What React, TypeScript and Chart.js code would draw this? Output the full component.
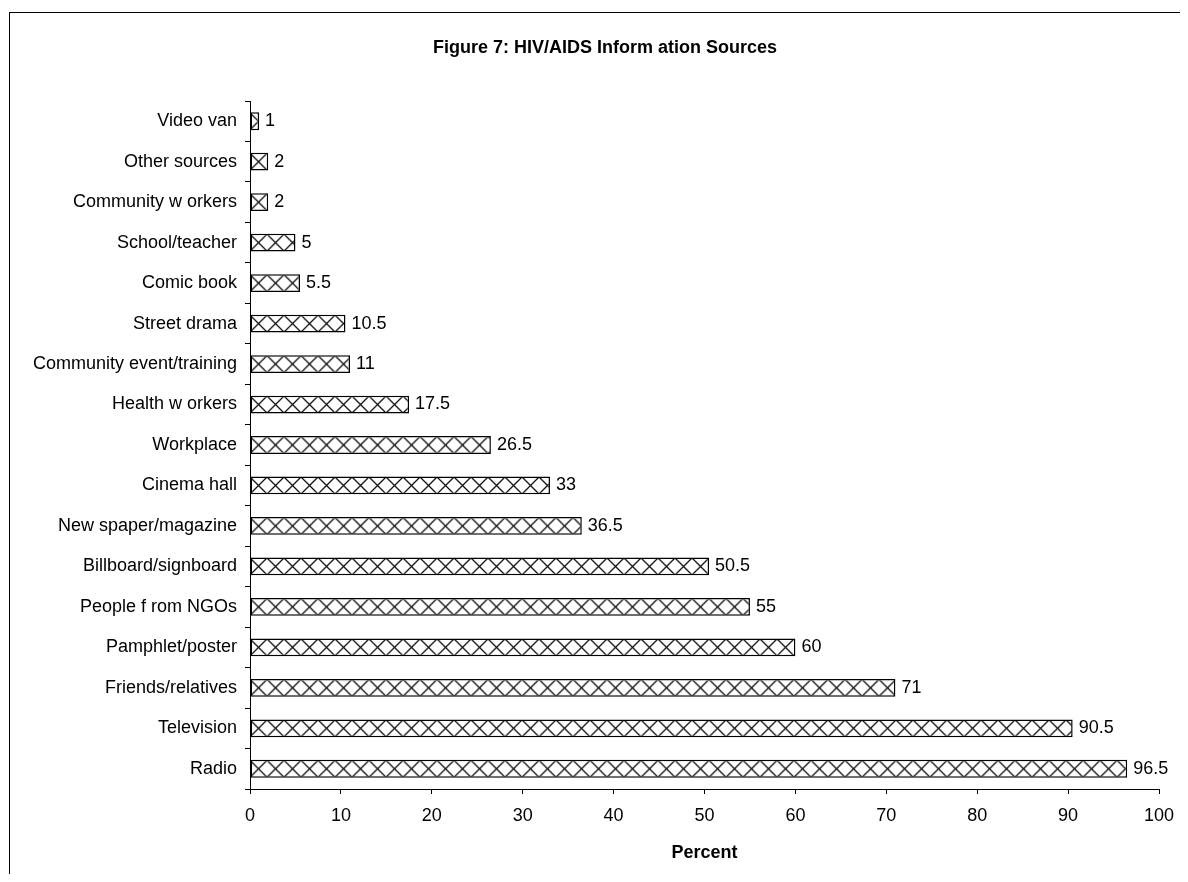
import React, { useEffect, useRef } from "react";
import { Chart, registerables } from "chart.js";

Chart.register(...registerables);

const TITLE = "Figure 7: HIV/AIDS Inform ation Sources";
const X_TITLE = "Percent";

const categories: string[] = [
  "Video van",
  "Other sources",
  "Community w orkers",
  "School/teacher",
  "Comic book",
  "Street drama",
  "Community event/training",
  "Health w orkers",
  "Workplace",
  "Cinema hall",
  "New spaper/magazine",
  "Billboard/signboard",
  "People f rom NGOs",
  "Pamphlet/poster",
  "Friends/relatives",
  "Television",
  "Radio",
];

const percentValues: number[] = [
  1, 2, 2, 5, 5.5, 10.5, 11, 17.5, 26.5, 33, 36.5, 50.5, 55, 60, 71, 90.5, 96.5,
];

const X_MIN = 0;
const X_MAX = 100;
const X_STEP = 10;

const FONT = "'Liberation Sans', Arial, Helvetica, sans-serif";

function makeTile(): HTMLCanvasElement {
  const size = 17;
  const c = document.createElement("canvas");
  c.width = size;
  c.height = size;
  const g = c.getContext("2d")!;
  g.fillStyle = "#ffffff";
  g.fillRect(0, 0, size, size);
  g.strokeStyle = "#111111";
  g.lineWidth = 1.3;
  g.beginPath();
  g.moveTo(-1, -1);
  g.lineTo(size + 1, size + 1);
  g.moveTo(size + 1, -1);
  g.lineTo(-1, size + 1);
  g.stroke();
  return c;
}

const valueLabels = {
  id: "valueLabels",
  afterDatasetsDraw(chart: any) {
    const ctx = chart.ctx;
    const meta = chart.getDatasetMeta(0);
    ctx.save();
    ctx.font = `18px ${FONT}`;
    ctx.fillStyle = "#000";
    ctx.textAlign = "left";
    ctx.textBaseline = "middle";
    meta.data.forEach((bar: any, i: number) => {
      ctx.fillText(String(percentValues[i]), bar.x + 6, bar.y);
    });
    ctx.restore();
  },
};

const figureTitle = {
  id: "figureTitle",
  afterDraw(chart: any) {
    const ctx = chart.ctx;
    ctx.save();
    ctx.font = `bold 18px ${FONT}`;
    ctx.fillStyle = "#000";
    ctx.textAlign = "center";
    ctx.textBaseline = "middle";
    ctx.fillText(TITLE, 597, 40);
    ctx.restore();
  },
};

export default function App() {
  const canvasRef = useRef<HTMLCanvasElement | null>(null);

  useEffect(() => {
    const canvas = canvasRef.current;
    if (!canvas) return;
    const tile = makeTile();

    const chart = new Chart(canvas, {
      type: "bar",
      data: {
        labels: categories,
        datasets: [
          {
            data: percentValues,
            backgroundColor: (c: any) => {
              const ch = c.chart;
              const pat = ch.ctx.createPattern(tile, "repeat");
              if (!pat) return "#fff";
              const ys = ch.scales && ch.scales.y;
              if (c.type === "data" && ys && ch.chartArea) {
                const cy = ys.getPixelForValue(c.dataIndex);
                const left = ch.chartArea.left;
                try {
                  pat.setTransform(new DOMMatrix([1, 0, 0, 1, left, cy - 8.5]));
                } catch (e) {}
              }
              return pat;
            },
            borderColor: "#000",
            borderWidth: 1.5,
            borderSkipped: false,
            barPercentage: 0.44,
            categoryPercentage: 1,
          },
        ],
      },
      options: {
        indexAxis: "y",
        responsive: true,
        maintainAspectRatio: false,
        animation: false,
        layout: { padding: { left: 0, right: 29, top: 93, bottom: 0 } },
        plugins: {
          legend: { display: false },
          tooltip: { enabled: false },
          title: { display: false },
        },
        scales: {
          x: {
            type: "linear",
            min: X_MIN,
            max: X_MAX,
            ticks: {
              stepSize: X_STEP,
              color: "#000",
              font: { family: FONT, size: 18 },
              padding: 11,
            },
            grid: {
              drawOnChartArea: false,
              drawTicks: true,
              tickLength: 5,
              color: "#000",
            },
            border: { display: true, color: "#000", width: 1 },
            title: {
              display: true,
              text: X_TITLE,
              color: "#000",
              font: { family: FONT, size: 18, weight: "bold" },
              padding: { top: 0, bottom: 10.2 },
            },
            afterFit: (s: any) => {
              s.height = 85;
            },
          },
          y: {
            type: "category",
            ticks: {
              color: "#000",
              font: { family: FONT, size: 18 },
              padding: 8,
            },
            grid: {
              drawOnChartArea: false,
              drawTicks: true,
              tickLength: 5,
              offset: true,
              color: "#000",
            },
            border: { display: true, color: "#000", width: 1 },
            afterFit: (s: any) => {
              s.width = 242;
            },
          },
        },
      },
      plugins: [valueLabels, figureTitle],
    });

    return () => chart.destroy();
  }, []);

  return (
    <div
      style={{
        position: "relative",
        width: 1180,
        height: 866,
        overflow: "hidden",
        background: "#fff",
      }}
    >
      <div
        style={{
          position: "absolute",
          left: 1,
          top: 4,
          width: 1300,
          height: 1000,
          borderLeft: "1.5px solid #000",
          borderTop: "1.5px solid #000",
          boxSizing: "border-box",
        }}
      />
      <div style={{ position: "absolute", left: 0, top: 0, width: 1180, height: 866 }}>
        <canvas ref={canvasRef} />
      </div>
    </div>
  );
}
